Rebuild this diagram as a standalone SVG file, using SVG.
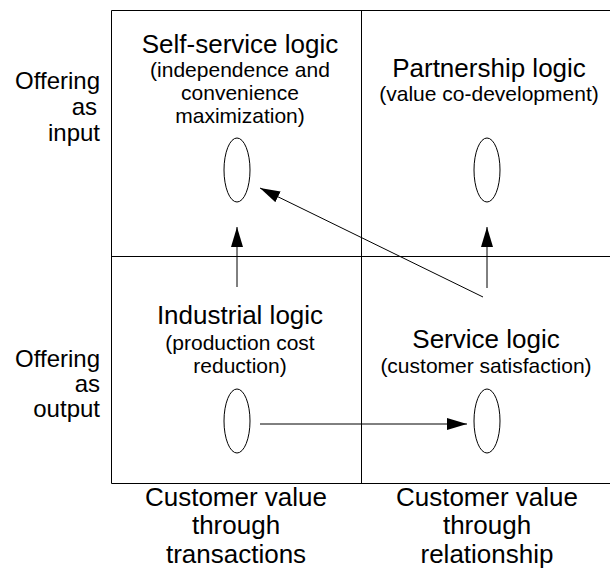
<svg xmlns="http://www.w3.org/2000/svg" width="610" height="570" viewBox="0 0 610 570">
<defs>
<marker id="ah" markerWidth="20" markerHeight="12" refX="20" refY="6" orient="auto" markerUnits="userSpaceOnUse">
<path d="M0,0 L20,6 L0,12 Z" fill="#000"/>
</marker>
<style>
text{font-family:"Liberation Sans",Arial,sans-serif;fill:#000}
.h{font-size:26px;text-anchor:middle}
.s{font-size:21px;text-anchor:middle}
.l{font-size:24px;text-anchor:end}
.b{font-size:26px;text-anchor:middle}
.grid{stroke:#000;stroke-width:1;fill:none}
.node ellipse{fill:#fff;stroke:#000;stroke-width:1}
.conn line{stroke:#000;stroke-width:1}
</style>
</defs>
<rect width="610" height="570" fill="#fff"/>
<g id="grid" class="grid">
<path d="M111.5,10.5 H610 M111.5,10.5 V483.5 M111.5,483.5 H610 M111.5,256.5 H610 M361.5,10.5 V483.5"/>
</g>
<g id="self-service" class="node">
<text class="h" x="240" y="53">Self-service logic</text>
<text class="s" x="240" y="77">(independence and</text>
<text class="s" x="240" y="100">convenience</text>
<text class="s" x="240" y="123">maximization)</text>
<ellipse cx="237" cy="170" rx="13" ry="32"/>
</g>
<g id="partnership" class="node">
<text class="h" x="489" y="77">Partnership logic</text>
<text class="s" x="489" y="101">(value co-development)</text>
<ellipse cx="487" cy="170" rx="13" ry="32"/>
</g>
<g id="industrial" class="node">
<text class="h" x="240" y="324">Industrial logic</text>
<text class="s" x="240" y="350">(production cost</text>
<text class="s" x="240" y="373">reduction)</text>
<ellipse cx="237" cy="421" rx="13" ry="32"/>
</g>
<g id="service" class="node">
<text class="h" x="486" y="348">Service logic</text>
<text class="s" x="486" y="373">(customer satisfaction)</text>
<ellipse cx="487" cy="421" rx="13" ry="32"/>
</g>
<g id="row-input">
<text class="l" x="100" y="89">Offering</text>
<text class="l" x="97" y="115">as</text>
<text class="l" x="100" y="141">input</text>
</g>
<g id="row-output">
<text class="l" x="100" y="367">Offering</text>
<text class="l" x="100" y="392">as</text>
<text class="l" x="100" y="417">output</text>
</g>
<g id="col-transactions">
<text class="b" x="236" y="506">Customer value</text>
<text class="b" x="236" y="534">through</text>
<text class="b" x="236" y="563">transactions</text>
</g>
<g id="col-relationship">
<text class="b" x="487" y="506">Customer value</text>
<text class="b" x="487" y="534">through</text>
<text class="b" x="487" y="563">relationship</text>
</g>
<g id="connectors" class="conn">
<line x1="237" y1="287" x2="237" y2="227" marker-end="url(#ah)"/>
<line x1="487" y1="288" x2="487" y2="227" marker-end="url(#ah)"/>
<line x1="483" y1="297" x2="260" y2="188" marker-end="url(#ah)"/>
<line x1="260" y1="424" x2="467" y2="424" marker-end="url(#ah)"/>
</g>
</svg>
